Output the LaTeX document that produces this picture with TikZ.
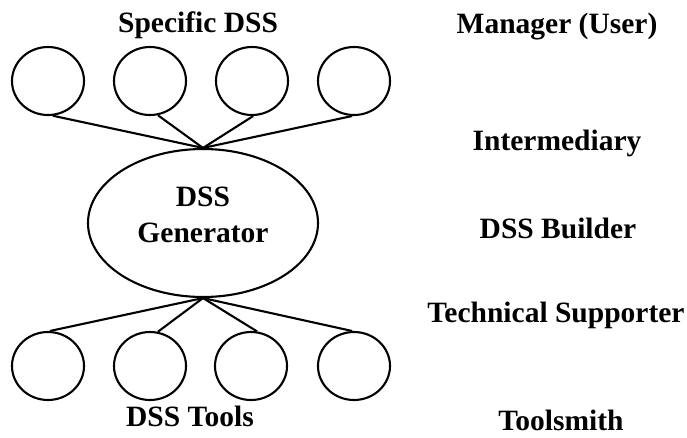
\documentclass[tikz,border=0pt]{standalone}
\usepackage{fontspec}
\setmainfont{Liberation Serif}
\usetikzlibrary{shapes.geometric}
\begin{document}
\begin{tikzpicture}[x=1pt,y=-1pt,
  lbl/.style={font=\fontsize{29.5}{35}\selectfont\bfseries, inner sep=0pt, anchor=center},
  unit/.style={draw, ellipse, line width=2.1pt, minimum width=72pt, minimum height=68pt, inner sep=0pt},
  gen/.style={draw, ellipse, line width=2.1pt, minimum width=230pt, minimum height=148pt, inner sep=0pt},
  link/.style={line width=2.1pt}]
\useasboundingbox (0,0) rectangle (687,437);

% layer labels on the right
\node[lbl] (mgr) at (557,27) {Manager (User)};
\node[lbl] (inter) at (557,143) {Intermediary};
\node[lbl] (bld) at (558,228) {DSS Builder};
\node[lbl] (tech) at (556,315) {Technical Supporter};
\node[lbl] (smith) at (561,420) {Toolsmith};

% specific DSS row
\node[lbl] (spec) at (198,25) {Specific DSS};
\node[unit] (t1) at (48,81) {};
\node[unit] (t2) at (150,81) {};
\node[unit] (t3) at (252,81) {};
\node[unit] (t4) at (354,81) {};

% generator
\node[gen] (g) at (203,223) {};
\node[lbl, align=center] (gtxt) at (203,215) {DSS\\[1pt]Generator};

% tools row
\node[unit] (b1) at (48,366) {};
\node[unit] (b2) at (150,366) {};
\node[unit] (b3) at (251,366) {};
\node[unit] (b4) at (354,366) {};
\node[lbl] (tools) at (190,416) {DSS Tools};

% connectors
\draw[link] (t1.-82) -- (g.north);
\draw[link] (t2.-77) -- (g.north);
\draw[link] (t3.-88) -- (g.north);
\draw[link] (t4.-93) -- (g.north);
\draw[link] (b1.87) -- (g.south);
\draw[link] (b2.77) -- (g.south);
\draw[link] (b3.80) -- (g.south);
\draw[link] (b4.93) -- (g.south);
\end{tikzpicture}
\end{document}
